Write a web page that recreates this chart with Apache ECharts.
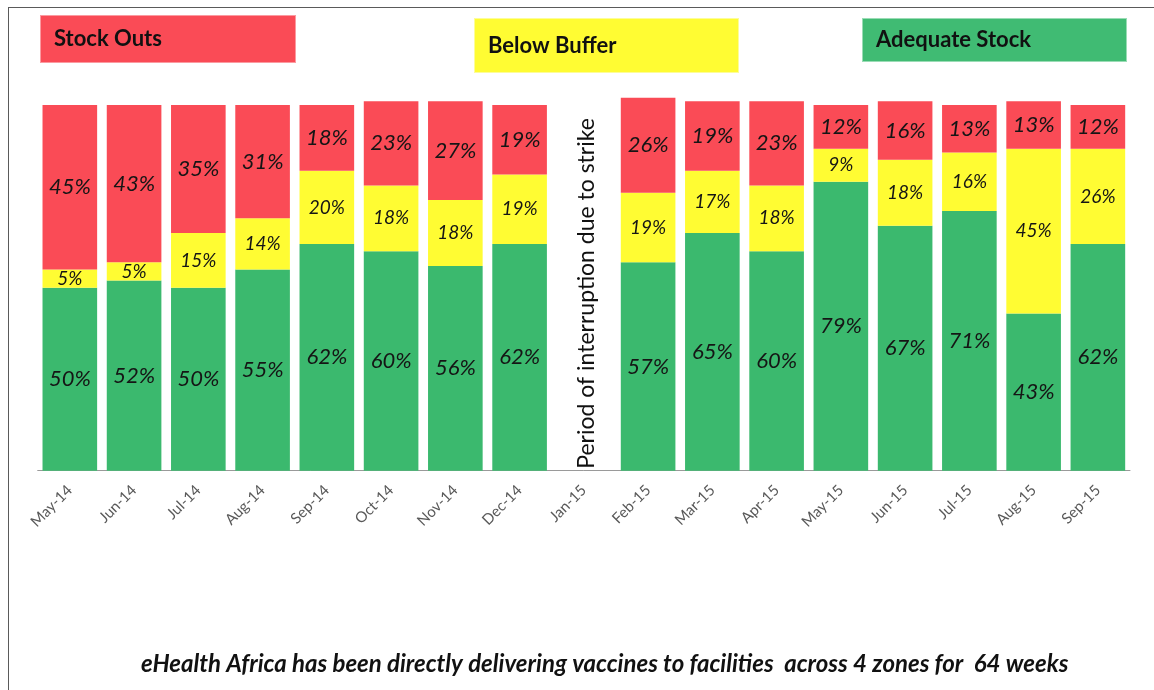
<!DOCTYPE html>
<html>
<head>
<meta charset="utf-8">
<script src="https://cdn.jsdelivr.net/npm/echarts@6/dist/echarts.min.js"></script>
<style>
    html, body { margin: 0; padding: 0; background: #fff; }
    #wrap { position: relative; width: 1154px; height: 690px; }
    #chart { position: absolute; left: 0; top: 0; width: 1154px; height: 690px; }
    /* thin frame round the picture, top and left edges only */
    #frame {
        position: absolute; left: 8px; top: 7px; right: 0; bottom: 0;
        border-left: 1.5px solid #5a5a5a; border-top: 1.5px solid #5a5a5a;
        pointer-events: none;
    }
</style>
</head>
<body>
<div id="wrap">
    <div id="chart"></div>
    <div id="frame"></div>
</div>
<script>
// months on the x axis (Jan-15 had no deliveries because of the strike)
const months = ['May-14', 'Jun-14', 'Jul-14', 'Aug-14', 'Sep-14', 'Oct-14', 'Nov-14', 'Dec-14', 'Jan-15',
    'Feb-15', 'Mar-15', 'Apr-15', 'May-15', 'Jun-15', 'Jul-15', 'Aug-15', 'Sep-15'];

// share of facilities, in %
const adequateStock = [50, 52, 50, 55, 62, 60, 56, 62, null, 57, 65, 60, 79, 67, 71, 43, 62];
const belowBuffer   = [5, 5, 15, 14, 20, 18, 18, 19, null, 19, 17, 18, 9, 18, 16, 45, 26];
const stockOuts     = [45, 43, 35, 31, 18, 23, 27, 19, null, 26, 19, 23, 12, 16, 13, 13, 12];

const RED = '#FA4B56';
const YELLOW = '#FFFC33';
const GREEN = '#3BB96E';
const FONT = 'Lato, "Open Sans", sans-serif';

const chart = echarts.init(document.getElementById('chart'));

// each legend entry is drawn as a coloured box with its name inside
function boxLegend(name, left, top, bg, border, w, h, pad) {
    return {
        data: [name],
        left: left,
        top: top,
        padding: 0,
        itemWidth: 0,
        itemHeight: 0,
        icon: 'rect',
        textStyle: {
            fontFamily: FONT,
            fontWeight: 'bold',
            fontSize: 22,
            color: '#111',
            backgroundColor: bg,
            borderColor: border,
            borderWidth: 1,
            padding: [pad[0], 0, pad[1], 13],
            width: w - 13,
            height: h - pad[0] - pad[1],
            lineHeight: h - pad[0] - pad[1]
        }
    };
}

function barLabel(size) {
    return {
        show: true,
        position: 'inside',
        fontFamily: FONT,
        fontStyle: 'italic',
        fontSize: size,
        color: '#151515',
        formatter: function (p) { return p.value + '%'; }
    };
}

const option = {
    animation: false,
    title: {
        text: 'eHealth Africa has been directly delivering vaccines to facilities  across 4 zones for  64 weeks',
        left: 141,
        top: 652,
        padding: 0,
        textStyle: {
            fontFamily: FONT,
            fontStyle: 'italic',
            fontWeight: 'bold',
            fontSize: 24,
            color: '#111'
        }
    },
    legend: [
        boxLegend('Stock Outs', 36, 15, RED, '#fb9aa0', 254, 46, [0, 2]),
        boxLegend('Below Buffer', 470, 18, YELLOW, '#fdfd99', 263, 53, [0, 8]),
        boxLegend('Adequate Stock', 858, 18, '#40BB73', '#9adcb5', 263, 42, [1, 0])
    ],
    grid: {
        left: 37.7,
        right: 24,
        top: 68.4,
        bottom: 219.3
    },
    xAxis: {
        type: 'category',
        data: months,
        axisLine: { lineStyle: { color: '#9a9a9a', width: 1 } },
        axisTick: { length: 4, lineStyle: { color: '#9a9a9a' } },
        axisLabel: {
            rotate: 45,
            margin: 17,
            interval: 0,
            fontFamily: FONT,
            fontSize: 15,
            color: '#595959'
        }
    },
    yAxis: {
        type: 'value',
        min: 0,
        max: 110,
        show: false
    },
    graphic: [{
        type: 'text',
        x: 586.7,
        y: 293.4,
        rotation: Math.PI / 2,
        style: {
            text: 'Period of interruption due to strike',
            fontFamily: FONT,
            fontSize: 23,
            fill: '#111',
            align: 'center',
            verticalAlign: 'middle'
        }
    }],
    series: [
        {
            name: 'Adequate Stock',
            type: 'bar',
            stack: 'share',
            barCategoryGap: '15%',
            itemStyle: { color: GREEN },
            label: barLabel(22),
            data: adequateStock
        },
        {
            name: 'Below Buffer',
            type: 'bar',
            stack: 'share',
            itemStyle: { color: YELLOW },
            label: barLabel(19),
            data: belowBuffer
        },
        {
            name: 'Stock Outs',
            type: 'bar',
            stack: 'share',
            itemStyle: { color: RED },
            label: barLabel(22),
            data: stockOuts
        }
    ]
};

chart.setOption(option);
</script>
</body>
</html>
